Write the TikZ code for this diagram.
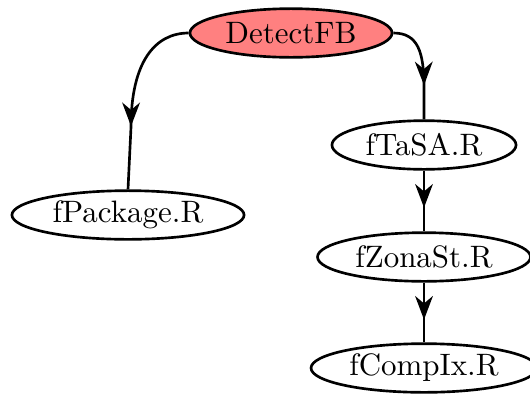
\documentclass[tikz,border=0pt]{standalone}
\usetikzlibrary{arrows.meta,decorations.markings,shapes.geometric}
\tikzset{
  fnode/.style={ellipse,draw,line width=0.9pt,inner sep=0pt,minimum height=16.5pt,font=\fontsize{10.5}{12}\selectfont},
  edge/.style={draw,line width=0.9pt},
  midarrow/.style={postaction={decorate},decoration={markings,mark=at position #1 with {\arrow{Stealth[length=8pt,width=6pt,inset=2.5pt]}}}}
}
\begin{document}
\begin{tikzpicture}[x=0.339pt,y=-0.339pt]
\useasboundingbox (0,0) rectangle (530,394);
\node[fnode,fill=red!50,minimum width=68.5pt] (d) at (291,33) {DetectFB};
\node[fnode,minimum width=62.4pt] (t) at (424,145) {fTaSA.R};
\node[fnode,minimum width=78.7pt] (p) at (128,215) {fPackage.R};
\node[fnode,minimum width=72.2pt] (z) at (424,257) {fZonaSt.R};
\node[fnode,minimum width=76.6pt] (c) at (424,368) {fCompIx.R};
\path[edge,midarrow=0.66] (d.west) .. controls (155,33) and (131,62) .. (131,127) -- (p.north);
\path[edge,midarrow=0.67] (d.east) .. controls (418,33) and (424,52) .. (424,88) -- (t.north);
\path[edge,midarrow=0.61] (t.south) -- (z.north);
\path[edge,midarrow=0.62] (z.south) -- (c.north);
\end{tikzpicture}
\end{document}
